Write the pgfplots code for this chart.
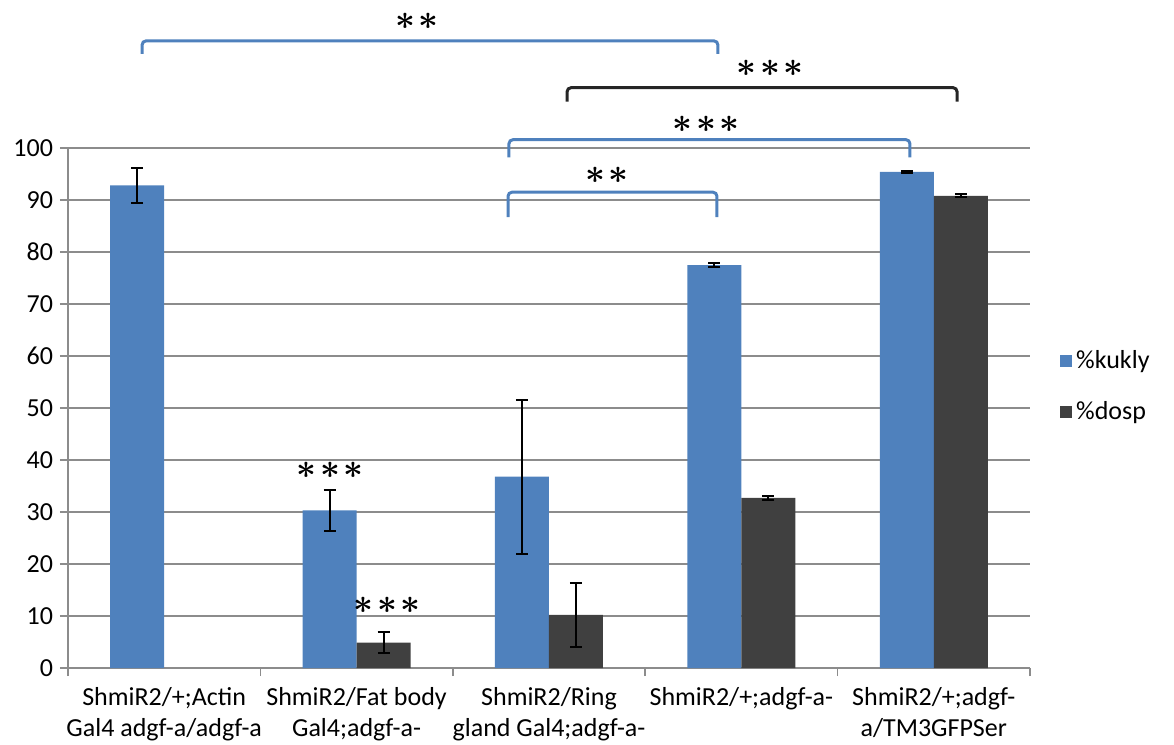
\documentclass[border=0pt]{standalone}
\usepackage{pgfplots}
\pgfplotsset{compat=1.18}
\usepackage{fontspec}
\setmainfont{Carlito}
\definecolor{kukly}{HTML}{4F81BD}
\definecolor{dosp}{HTML}{404040}
\definecolor{gridc}{HTML}{8C8C8C}
\definecolor{brk}{HTML}{262626}

% significance stars
\newcommand{\st}{\mathord{\ast}}
\newcommand{\sigtwo}{{\boldmath$\st\mkern1.5mu\st$}}
\newcommand{\sigthree}{{\boldmath$\st\mkern1.5mu\st\mkern1.5mu\st$}}

% x = group index, y = mean, e = error
\pgfplotstableread{
x y e
0 92.8 3.4
1 30.3 3.9
2 36.8 14.8
3 77.5 0.3
4 95.4 0.2
}\kukly
\pgfplotstableread{
x y e
1 4.9 2.1
2 10.2 6.1
3 32.7 0.3
4 90.8 0.3
}\dosp

\begin{document}
\begin{tikzpicture}
\path[use as bounding box] (-34pt,-38.5pt) rectangle (553pt,334pt);
\begin{axis}[
  scale only axis, width=481pt, height=260pt,
  at={(0,0)}, anchor=south west,
  xmin=-0.5, xmax=4.5, ymin=0, ymax=100,
  ybar=0pt, bar width=27pt,
  clip=false,
  axis x line*=bottom, axis y line*=left,
  axis line style={gridc, line width=0.8pt},
  ytick={0,10,...,100},
  ymajorgrids, grid style={gridc, line width=0.8pt},
  tick align=outside, major tick length=4pt,
  tick style={gridc, line width=0.8pt},
  xtick={-0.5,0.5,1.5,2.5,3.5,4.5},
  xticklabels={{ShmiR2/+;Actin\\Gal4 adgf-a/adgf-a},
               {ShmiR2/Fat body\\Gal4;adgf-a-},
               {ShmiR2/Ring\\gland Gal4;adgf-a-},
               {ShmiR2/+;adgf-a-\\\strut},
               {ShmiR2/+;adgf-\\a/TM3GFPSer},{}},
  xticklabel style={xshift=48.1pt, align=center, anchor=north,
    font=\fontsize{13}{15.5}\selectfont, yshift=-2pt},
  yticklabel style={font=\fontsize{13}{15}\selectfont},
  /pgf/number format/assume math mode=true,
  legend style={at={(1.031,0.541)}, anchor=west, draw=none, fill=none,
    font=\fontsize{13}{15}\selectfont, row sep=11pt, inner sep=0pt},
  legend cell align=left,
  legend image code/.code={\fill[#1] (0pt,-3pt) rectangle (6pt,3pt);},
]
\addplot+[fill=kukly, draw=none,
  error bars/.cd, y dir=both, y explicit,
  error bar style={black, line width=1pt},
  error mark options={rotate=90, mark size=3pt, line width=1pt, black}]
  table[x=x, y=y, y error=e] {\kukly};
\addplot+[fill=dosp, draw=none,
  error bars/.cd, y dir=both, y explicit,
  error bar style={black, line width=1pt},
  error mark options={rotate=90, mark size=3pt, line width=1pt, black}]
  table[x=x, y=y, y error=e] {\dosp};
\legend{\%kukly, \%dosp}

% significance brackets
\draw[kukly, line width=1.5pt, rounded corners=2pt]
  (axis cs:-0.115,118.1) -- (axis cs:-0.115,120.6) -- (axis cs:2.878,120.6) -- (axis cs:2.878,118.1);
\draw[brk, line width=1.5pt, rounded corners=2pt]
  (axis cs:2.094,108.9) -- (axis cs:2.094,111.6) -- (axis cs:4.121,111.6) -- (axis cs:4.121,108.9);
\draw[kukly, line width=1.5pt, rounded corners=2pt]
  (axis cs:1.792,98.2) -- (axis cs:1.792,101.6) -- (axis cs:3.876,101.6) -- (axis cs:3.876,98.2);
\draw[kukly, line width=1.5pt, rounded corners=2pt]
  (axis cs:1.787,86.7) -- (axis cs:1.787,91.5) -- (axis cs:2.873,91.5) -- (axis cs:2.873,86.7);

\node[anchor=center, font=\fontsize{17}{17}\selectfont, inner sep=0pt] at (axis cs:1.314,124.3) {\sigtwo};
\node[anchor=center, font=\fontsize{17}{17}\selectfont, inner sep=0pt] at (axis cs:3.149,115.4) {\sigthree};
\node[anchor=center, font=\fontsize{17}{17}\selectfont, inner sep=0pt] at (axis cs:2.816,104.5) {\sigthree};
\node[anchor=center, font=\fontsize{17}{17}\selectfont, inner sep=0pt] at (axis cs:2.301,94.7) {\sigtwo};
\node[anchor=center, font=\fontsize{17}{17}\selectfont, inner sep=0pt] at (axis cs:0.862,38.1) {\sigthree};
\node[anchor=center, font=\fontsize{17}{17}\selectfont, inner sep=0pt] at (axis cs:1.158,12.1) {\sigthree};
\end{axis}
\end{tikzpicture}
\end{document}
